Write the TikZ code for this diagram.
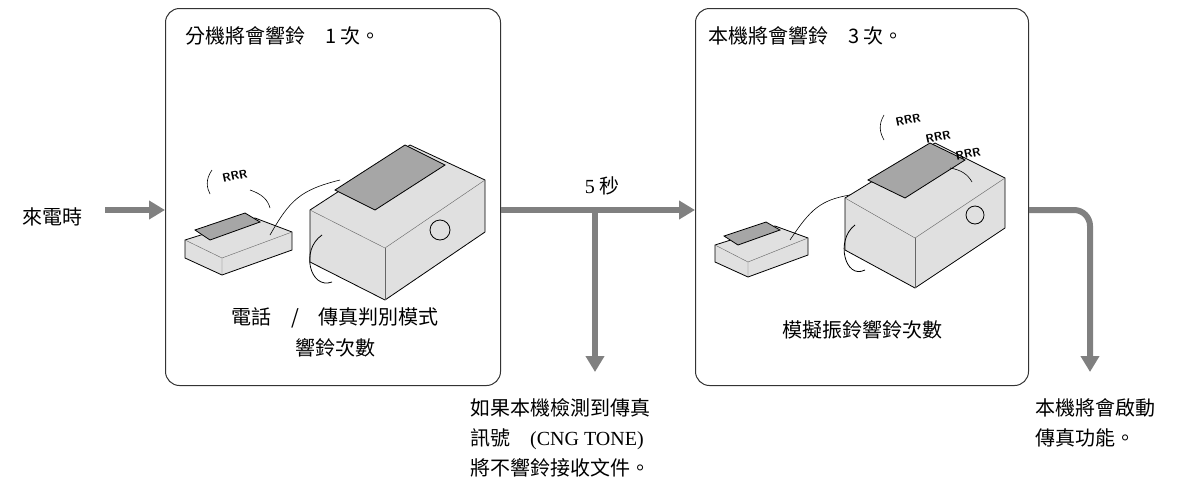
\documentclass[tikz,border=0pt]{standalone}
\usepackage{fontspec}
\setmainfont{Noto Sans CJK TC}
\usetikzlibrary{arrows.meta}
\tikzset{
  box/.style={draw=black!80, line width=1pt, rounded corners=14pt},
  flow/.style={draw=black!50, line width=6pt, -{Triangle[length=16pt,width=18pt]}},
  lbl/.style={font=\fontsize{20}{24}\selectfont, inner sep=0pt},
  dev/.style={draw=black, line width=0.8pt, fill=black!12},
  devd/.style={draw=black, line width=0.8pt, fill=black!35},
  rr/.style={font=\sffamily\bfseries\fontsize{12}{12}\selectfont, rotate=12, inner sep=0pt},
}
\begin{document}
\begin{tikzpicture}[x=1pt,y=-1pt]
\useasboundingbox (0,0) rectangle (1198,498);
\node[box, minimum width=335pt, minimum height=377pt, anchor=north west] (b1) at (165,8) {};
\node[box, minimum width=333pt, minimum height=377pt, anchor=north west] (b2) at (695,8) {};
\node[lbl, anchor=west] (t0) at (22,217) {來電時};
\node[lbl, anchor=west] (t1) at (185,36) {分機將會響鈴\quad 1 次。};
\node[lbl] (t2) at (335,318) {電話\quad /\quad 傳真判別模式};
\node[lbl] (t3) at (335,348) {響鈴次數};
\node[lbl, anchor=west] (t4) at (708,36) {本機將會響鈴\quad 3 次。};
\node[lbl] (t5) at (862,330) {模擬振鈴響鈴次數};
\node[lbl] (t6) at (602,186) {{\fontspec{Liberation Serif}5} 秒};
\node[lbl, anchor=north west, align=left, font=\fontsize{20}{30}\selectfont] (t7) at (470,398) {如果本機檢測到傳真\\訊號\quad {\fontspec{Liberation Serif}(CNG TONE)}\\將不響鈴接收文件。};
\node[lbl, anchor=north west, align=left, font=\fontsize{20}{30}\selectfont] (t8) at (1035,398) {本機將會啟動\\傳真功能。};
\coordinate (a0) at (105,210);
\draw[flow] (a0) -- (b1.west |- a0);
\coordinate (m1) at (b1.east |- a0);
\draw[flow] (m1) -- (b2.west |- a0);
\coordinate (br) at (595,210);
\coordinate (bre) at (595,372);
\draw[flow] ([yshift=-3pt]br) -- (bre);
\coordinate (r1) at (b2.east |- a0);
\coordinate (r2) at (1090,372);
\draw[flow, rounded corners=16pt] (r1) -- (1090,210) -- (r2);
% box1 phone
\draw[dev] (185,240) -- (255,218) -- (292,232) -- (292,250) -- (222,275) -- (185,258) -- cycle;
\draw[devd] (195,230) -- (245,213) -- (260,222) -- (210,240) -- cycle;
\draw[black!60] (222,275) -- (222,258) -- (185,240);
\draw[black!60] (222,258) -- (292,232);
\draw[line width=0.6pt] (270,235) .. controls (290,200) and (300,190) .. (340,180);
% box1 fax
\draw[dev] (310,210) -- (410,145) -- (485,180) -- (485,232) -- (385,300) -- (310,262) -- cycle;
\draw[devd] (335,190) -- (405,145) -- (445,165) -- (375,210) -- cycle;
\draw[black!60] (310,210) -- (385,248) -- (485,180);
\draw[black!60] (385,248) -- (385,300);
\draw[line width=0.8pt] (440,230) circle (10pt);
\draw[line width=0.8pt] (322,235) .. controls (300,250) and (310,290) .. (332,282);
\node[rr] (r1a) at (235,176) {RRR};
\draw[line width=0.6pt] (212,170) .. controls (205,180) and (207,188) .. (210,194);
\draw[line width=0.6pt] (250,190) .. controls (262,194) and (268,200) .. (270,208);
% box2 phone
\draw[dev] (715,245) -- (775,226) -- (808,238) -- (808,255) -- (748,277) -- (715,262) -- cycle;
\draw[devd] (724,236) -- (766,222) -- (780,230) -- (738,245) -- cycle;
\draw[black!60] (748,277) -- (748,262) -- (715,245);
\draw[black!60] (748,262) -- (808,238);
\draw[line width=0.6pt] (790,240) .. controls (810,210) and (820,200) .. (850,195);
% box2 fax
\draw[dev] (845,198) -- (935,143) -- (1005,178) -- (1005,228) -- (915,288) -- (845,250) -- cycle;
\draw[devd] (868,180) -- (930,143) -- (965,160) -- (905,198) -- cycle;
\draw[black!60] (845,198) -- (915,238) -- (1005,178);
\draw[black!60] (915,238) -- (915,288);
\draw[line width=0.8pt] (975,215) circle (9pt);
\draw[line width=0.8pt] (855,225) .. controls (835,240) and (845,280) .. (865,270);
\node[rr] (r2a) at (908,120) {RRR};
\node[rr] (r2b) at (938,137) {RRR};
\node[rr] (r2c) at (968,154) {RRR};
\draw[line width=0.6pt] (884,115) .. controls (878,125) and (880,133) .. (884,140);
\draw[line width=0.6pt] (950,168) .. controls (962,170) and (968,175) .. (972,182);
\end{tikzpicture}
\end{document}
